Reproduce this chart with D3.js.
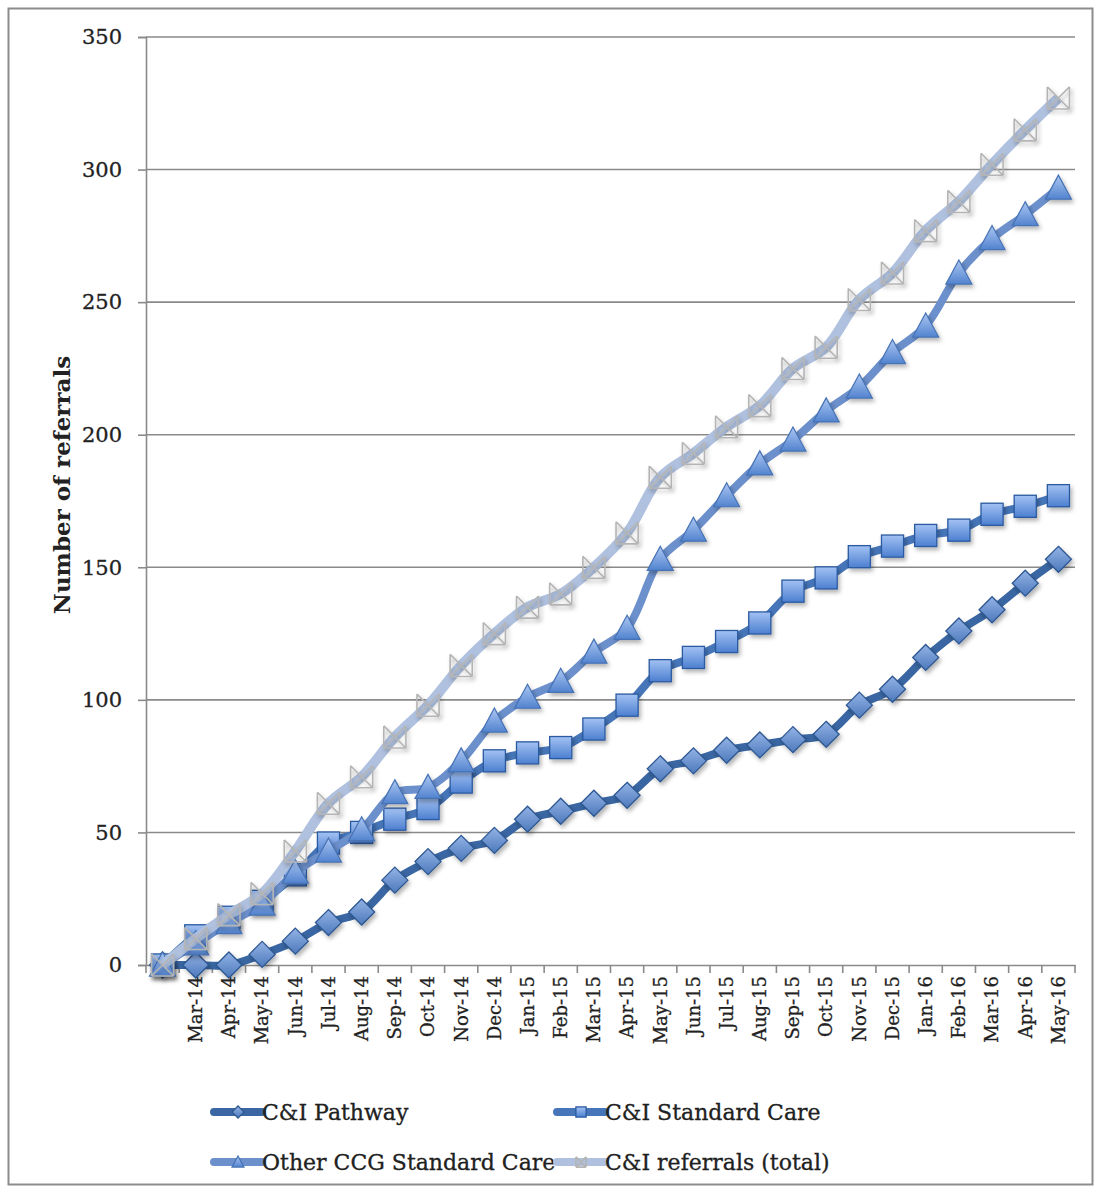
<!DOCTYPE html>
<html>
<head>
<meta charset="utf-8">
<script src="https://cdn.jsdelivr.net/npm/d3@7"></script>
<style>
  html, body { margin: 0; padding: 0; background: #fff; }
  svg { display: block; }
  text { font-family: "DejaVu Serif", "Liberation Serif", serif; fill: #222; }
</style>
</head>
<body>
<svg id="chart" width="1101" height="1191"></svg>
<script>
// Monthly cumulative referrals; the first month carries no axis label
const categories = ["", "Mar-14", "Apr-14", "May-14", "Jun-14", "Jul-14", "Aug-14", "Sep-14",
  "Oct-14", "Nov-14", "Dec-14", "Jan-15", "Feb-15", "Mar-15", "Apr-15", "May-15", "Jun-15",
  "Jul-15", "Aug-15", "Sep-15", "Oct-15", "Nov-15", "Dec-15", "Jan-16", "Feb-16", "Mar-16",
  "Apr-16", "May-16"];

const ciPathway = [0, 0, 0, 4, 9, 16, 20, 32, 39, 44, 47, 55, 58, 61, 64, 74, 77, 81, 83, 85,
  87, 98, 104, 116, 126, 134, 144, 153];
const ciStandardCare = [0, 11, 18, 24, 34, 46, 50, 55, 59, 69, 77, 80, 82, 89, 98, 111, 116,
  122, 129, 141, 146, 154, 158, 162, 164, 170, 173, 177];
const otherCcgStandardCare = [0, 8, 16, 23, 35, 43, 51, 65, 67, 77, 92, 101, 107, 118, 127,
  153, 164, 177, 189, 198, 209, 218, 231, 241, 261, 274, 283, 293];
const ciReferralsTotal = [0, 10, 19, 27, 43, 61, 71, 86, 98, 113, 125, 135, 140, 150, 163,
  184, 193, 203, 211, 225, 233, 251, 261, 277, 288, 302, 315, 327];

const yTicks = [0, 50, 100, 150, 200, 250, 300, 350];

const series = [
  { name: "C&I Pathway", values: ciPathway, shape: "diamond", line: "#3a67a3", width: 8 },
  { name: "C&I Standard Care", values: ciStandardCare, shape: "square", line: "#4676b9", width: 8 },
  { name: "Other CCG Standard Care", values: otherCcgStandardCare, shape: "triangle", line: "#6c90cc", width: 8 },
  { name: "C&I referrals (total)", values: ciReferralsTotal, shape: "x", line: "#afc1df", width: 10 }
];

const svg = d3.select("#chart");
const plot = { left: 146, right: 1075, top: 37, bottom: 965 };

// Outer frame
svg.append("rect")
  .attr("x", 8.5).attr("y", 8.5).attr("width", 1084).attr("height", 1176)
  .attr("fill", "#fff").attr("stroke", "#8c8c8c").attr("stroke-width", 2);

// Gradients and shadow for the markers
const defs = svg.append("defs");
function gradient(id, top, bottom) {
  const g = defs.append("linearGradient").attr("id", id)
    .attr("x1", 0).attr("y1", 0).attr("x2", 0).attr("y2", 1);
  g.append("stop").attr("offset", "0%").attr("stop-color", top);
  g.append("stop").attr("offset", "100%").attr("stop-color", bottom);
}
gradient("g-diamond", "#93b3e6", "#4d79bb");
gradient("g-square", "#a3c2f3", "#4c7fd0");
gradient("g-triangle", "#acc7f2", "#5283cf");
gradient("g-x", "#ffffff", "#e4e4e4");
const shadow = defs.append("filter").attr("id", "shadow")
  .attr("x", "-50%").attr("y", "-50%").attr("width", "200%").attr("height", "200%");
shadow.append("feDropShadow").attr("dx", 2).attr("dy", 3).attr("stdDeviation", 2)
  .attr("flood-color", "#000").attr("flood-opacity", 0.3);

const x = d3.scaleBand()
  .domain(d3.range(categories.length))
  .range([plot.left, plot.right]);
const y = d3.scaleLinear().domain([0, 350]).range([plot.bottom, plot.top]);

const gridColor = "#8a8a8a";

// Horizontal gridlines
svg.append("g").selectAll("line").data(yTicks.filter(d => d > 0)).join("line")
  .attr("x1", plot.left).attr("x2", plot.right)
  .attr("y1", d => y(d)).attr("y2", d => y(d))
  .attr("stroke", gridColor).attr("stroke-width", 1.6);

// Y axis
const yAxis = svg.append("g").attr("transform", `translate(${plot.left},0)`)
  .call(d3.axisLeft(y).tickValues(yTicks).tickSize(8).tickPadding(16).tickFormat(d3.format("d")));
yAxis.select(".domain").attr("stroke", gridColor).attr("stroke-width", 1.6);
yAxis.selectAll(".tick line").attr("stroke", gridColor).attr("stroke-width", 1.6);
yAxis.selectAll(".tick text")
  .style("font-family", "'DejaVu Serif', serif").style("font-size", "21px").attr("fill", "#222")
  .attr("stroke", "#222").attr("stroke-width", 0.3);

// X axis: labels under each month, ticks on the month boundaries
const xAxis = svg.append("g").attr("transform", `translate(0,${plot.bottom})`)
  .call(d3.axisBottom(x).tickSize(0).tickFormat(i => categories[i]));
xAxis.select(".domain").attr("stroke", gridColor).attr("stroke-width", 1.6);
xAxis.selectAll(".tick text")
  .style("font-family", "'DejaVu Serif', serif").style("font-size", "18px").attr("fill", "#1a1a1a")
  .attr("stroke", "#1a1a1a").attr("stroke-width", 0.3)
  .attr("text-anchor", "end")
  .attr("transform", "rotate(-90)")
  .attr("x", -11).attr("y", 0).attr("dy", "0.35em");
svg.append("g").selectAll("line").data(d3.range(categories.length + 1)).join("line")
  .attr("x1", i => plot.left + i * x.step()).attr("x2", i => plot.left + i * x.step())
  .attr("y1", plot.bottom).attr("y2", plot.bottom + 8)
  .attr("stroke", gridColor).attr("stroke-width", 1.6);

// Y axis title
svg.append("text")
  .attr("transform", `translate(70,485) rotate(-90)`)
  .attr("text-anchor", "middle")
  .style("font-size", "23px").style("font-weight", "bold").attr("fill", "#111")
  .text("Number of referrals");

// Marker drawing
function drawMarker(sel, shape, s) {
  if (shape === "diamond") {
    sel.append("path").attr("d", `M0,${-s} L${s},0 L0,${s} L${-s},0 Z`)
      .attr("fill", "url(#g-diamond)").attr("stroke", "#2d5791").attr("stroke-width", 1.3);
  } else if (shape === "square") {
    const h = s * 0.85;
    sel.append("rect").attr("x", -h).attr("y", -h).attr("width", 2 * h).attr("height", 2 * h)
      .attr("fill", "url(#g-square)").attr("stroke", "#2b5aa0").attr("stroke-width", 1.3);
  } else if (shape === "triangle") {
    sel.append("path").attr("d", `M0,${-s} L${s},${s * 0.85} L${-s},${s * 0.85} Z`)
      .attr("fill", "url(#g-triangle)").attr("stroke", "#4672b4").attr("stroke-width", 1.2);
  } else {
    const h = s * 0.85;
    sel.append("path")
      .attr("d", `M${-h},${-h} L${h},${h} M${h},${-h} L${-h},${h} M${-h},${-h} L${-h},${h} M${h},${-h} L${h},${h} M${-h},${h} L${h},${h}`)
      .attr("fill", "none").attr("stroke", "#b4b4b4").attr("stroke-width", 1.6);
  }
}

const line = d3.line()
  .x((d, i) => x(i) + x.bandwidth() / 2)
  .y(d => y(d))
  .curve(d3.curveCatmullRom.alpha(0.5));

// Series, drawn in order so the total sits on top
series.forEach(s => {
  const g = svg.append("g");
  g.append("path").datum(s.values)
    .attr("d", line)
    .attr("fill", "none").attr("stroke", s.line).attr("stroke-width", s.width)
    .attr("stroke-linejoin", "round");
  g.selectAll("g.m").data(s.values).join("g").attr("class", "m")
    .attr("transform", (d, i) => `translate(${x(i) + x.bandwidth() / 2},${y(d)})`)
    .attr("filter", "url(#shadow)")
    .each(function () { drawMarker(d3.select(this), s.shape, 13); });
});

// Legend
const legendPos = [
  { x: 212, y: 1112 }, { x: 555, y: 1112 },
  { x: 212, y: 1162 }, { x: 555, y: 1162 }
];
series.forEach((s, i) => {
  const p = legendPos[i];
  const g = svg.append("g").attr("transform", `translate(${p.x},${p.y})`);
  g.append("line").attr("x1", 2).attr("x2", 50).attr("y1", 0).attr("y2", 0)
    .attr("stroke", s.line).attr("stroke-width", 8).attr("stroke-linecap", "round");
  const m = g.append("g").attr("transform", "translate(26,0)");
  drawMarker(m, s.shape, 6);
  g.append("text").attr("x", 50).attr("y", 0).attr("dy", "0.35em")
    .style("font-size", "22px").attr("fill", "#1a1a1a")
    .attr("stroke", "#1a1a1a").attr("stroke-width", 0.3)
    .text(s.name);
});
</script>
</body>
</html>
